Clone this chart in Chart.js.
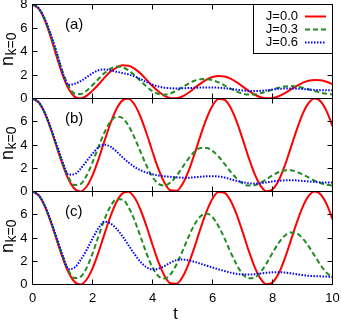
<!DOCTYPE html>
<html><head><meta charset="utf-8">
<script src="https://cdn.jsdelivr.net/npm/chart.js@4.4.1/dist/chart.umd.min.js"></script>
<style>
html,body{margin:0;padding:0;background:#fff;}
#wrap{position:relative;width:341px;height:321px;overflow:hidden;background:#fff;}
canvas{position:absolute;left:0;}
</style></head>
<body><div id="wrap">
<canvas id="ca" width="341" height="110" style="top:0px"></canvas>
<canvas id="cb" width="341" height="115" style="top:88px"></canvas>
<canvas id="cc" width="341" height="140" style="top:181px"></canvas>
</div>
<script>
// time grid
const T = [0,0.2,0.4,0.6,0.8,1,1.2,1.4,1.6,1.8,2,2.2,2.4,2.6,2.8,3,3.2,3.4,3.6,3.8,4,4.2,4.4,4.6,4.8,5,5.2,5.4,5.6,5.8,6,6.2,6.4,6.6,6.8,7,7.2,7.4,7.6,7.8,8,8.2,8.4,8.6,8.8,9,9.2,9.4,9.6,9.8,10];
const seriesLabels = ['J=0.0','J=0.3','J=0.6'];
const panelLabels = ['(a)','(b)','(c)'];
const xTickValues = [0,2,4,6,8,10];
const yTickValues = [0,2,4,6,8];

// panel (a)
const redA = [8.00,7.66,6.72,5.29,3.61,2.04,0.84,0.16,0.01,0.23,0.67,1.19,1.78,2.29,2.63,2.82,2.79,2.54,2.12,1.60,1.06,0.59,0.23,0.03,0.02,0.18,0.49,0.89,1.27,1.60,1.83,1.92,1.88,1.69,1.39,1.03,0.66,0.34,0.11,0.02,0.04,0.19,0.44,0.75,1.06,1.33,1.51,1.58,1.55,1.42,1.22];
const greenA = [8.00,7.68,6.78,5.42,3.85,2.30,1.08,0.42,0.38,0.66,1.13,1.66,2.17,2.54,2.72,2.66,2.40,1.99,1.50,1.02,0.62,0.38,0.32,0.43,0.66,0.97,1.27,1.51,1.64,1.65,1.56,1.37,1.12,0.84,0.60,0.41,0.33,0.34,0.44,0.59,0.76,0.91,1.02,1.06,1.02,0.92,0.79,0.64,0.50,0.40,0.34];
const blueA = [8.00,7.70,6.83,5.53,4.00,2.25,1.16,1.25,1.47,1.80,2.15,2.40,2.47,2.40,2.28,2.17,2.05,1.88,1.65,1.40,1.18,1.02,0.92,0.87,0.86,0.87,0.89,0.91,0.93,0.94,0.94,0.92,0.88,0.82,0.75,0.69,0.65,0.63,0.65,0.70,0.76,0.82,0.85,0.86,0.84,0.80,0.76,0.73,0.71,0.70,0.71];
// panel (b)
const redB = [8.00,7.68,6.79,5.45,3.88,2.34,1.05,0.23,0.01,0.41,1.39,2.77,4.35,5.87,7.10,7.84,7.97,7.48,6.43,5.01,3.42,1.92,0.76,0.10,0.06,0.64,1.76,3.22,4.81,6.27,7.38,7.95,7.89,7.22,6.05,4.55,2.96,1.54,0.51,0.02,0.17,0.92,2.16,3.69,5.26,6.64,7.60,8.00,7.76,6.93,5.63];
const greenB = [8.00,7.68,6.80,5.47,3.93,2.42,1.20,0.55,0.64,1.35,2.50,3.84,5.09,6.01,6.44,6.32,5.66,4.63,3.42,2.22,1.25,0.66,0.51,0.77,1.35,2.09,2.83,3.41,3.75,3.75,3.50,3.01,2.37,1.71,1.13,0.70,0.51,0.54,0.75,1.06,1.38,1.66,1.81,1.83,1.70,1.47,1.21,0.94,0.73,0.58,0.51];
const blueB = [8.00,7.70,6.83,5.55,4.07,2.60,1.45,1.48,1.95,2.60,3.25,3.80,4.02,3.85,3.45,2.95,2.50,2.12,1.83,1.62,1.48,1.38,1.31,1.26,1.22,1.19,1.19,1.22,1.27,1.31,1.32,1.29,1.20,1.06,0.92,0.80,0.71,0.68,0.71,0.78,0.86,0.92,0.96,0.97,0.95,0.91,0.86,0.82,0.79,0.77,0.77];
// panel (c)
const redC = [8.00,7.68,6.79,5.45,3.88,2.34,1.05,0.23,0.01,0.41,1.39,2.77,4.35,5.87,7.10,7.84,7.97,7.48,6.43,5.01,3.42,1.92,0.76,0.10,0.06,0.64,1.76,3.22,4.81,6.27,7.38,7.95,7.89,7.22,6.05,4.55,2.96,1.54,0.51,0.02,0.17,0.92,2.16,3.69,5.26,6.64,7.60,8.00,7.76,6.93,5.63];
const greenC = [8.00,7.68,6.80,5.48,3.95,2.45,1.22,0.55,0.65,1.41,2.66,4.15,5.60,6.73,7.33,7.31,6.66,5.53,4.13,2.68,1.48,0.71,0.51,0.87,1.72,2.87,4.09,5.15,5.87,6.10,5.79,5.02,3.97,2.80,1.74,0.91,0.53,0.59,1.06,1.82,2.71,3.55,4.18,4.48,4.41,3.99,3.30,2.49,1.68,1.02,0.61];
const blueC = [8.00,7.70,6.83,5.56,4.08,2.55,1.33,1.45,2.10,2.95,3.95,4.85,5.40,5.25,4.80,4.15,3.38,2.61,1.94,1.49,1.29,1.36,1.59,1.88,2.10,2.15,2.08,1.95,1.79,1.62,1.46,1.31,1.16,1.02,0.92,0.86,0.85,0.88,0.94,1.01,1.05,1.06,1.03,0.97,0.89,0.81,0.75,0.72,0.70,0.68,0.66];

const FONT = "'Liberation Sans', Arial, Helvetica, sans-serif";
const COLORS = ['#ff0000', '#228b22', '#0000ff'];
const DASHES = [[], [5, 3], [1.5, 1.5]];

function ds(idx, values) {
  return {
    label: seriesLabels[idx],
    data: T.map((t, i) => ({x: t, y: values[i]})),
    borderColor: COLORS[idx],
    borderWidth: 2,
    borderDash: DASHES[idx],
    pointRadius: 0,
    fill: false,
    cubicInterpolationMode: 'monotone',
    order: 2 - idx
  };
}

const framePlugin = {
  id: 'frame',
  afterDatasetsDraw(chart) {
    const o = chart.options.plugins.frame;
    const ctx = chart.ctx, a = chart.chartArea, xs = chart.scales.x, ys = chart.scales.y;
    ctx.save();
    ctx.strokeStyle = '#000';
    ctx.lineWidth = 1;
    ctx.setLineDash([]);
    ctx.beginPath();
    xTickValues.forEach(v => {
      const px = Math.round(xs.getPixelForValue(v) - 0.5) + 0.5;
      ctx.moveTo(px, a.bottom); ctx.lineTo(px, a.bottom - 5);
      ctx.moveTo(px, a.top); ctx.lineTo(px, a.top + 5);
    });
    yTickValues.forEach(v => {
      const py = Math.round(ys.getPixelForValue(v) - 0.5) + 0.5;
      ctx.moveTo(a.left, py); ctx.lineTo(a.left + 5, py);
      ctx.moveTo(a.right, py); ctx.lineTo(a.right - 5, py);
    });
    ctx.stroke();
    ctx.strokeRect(a.left, a.top, a.right - a.left, a.bottom - a.top);

    // panel label
    ctx.fillStyle = '#000';
    ctx.font = '15px ' + FONT;
    ctx.textAlign = 'left';
    ctx.textBaseline = 'middle';
    ctx.fillText(o.label, 65, a.top + 20.5);

    // y title n_{k=0}
    ctx.save();
    ctx.translate(0, a.top + 45);
    ctx.rotate(-Math.PI / 2);
    ctx.textBaseline = 'alphabetic';
    ctx.font = '18px ' + FONT;
    const wn = ctx.measureText('n').width;
    ctx.font = '14px ' + FONT;
    const wsub = ctx.measureText('k=0').width;
    const start = -(wn + wsub) / 2;
    ctx.font = '18px ' + FONT;
    ctx.fillText('n', start, 12.5);
    ctx.font = '14px ' + FONT;
    ctx.fillText('k=0', start + wn + 0.5, 16);
    ctx.restore();

    if (o.legend) {
      const L = 253.5, R = a.right, Tp = a.top, B = 53.5;
      ctx.fillStyle = '#fff';
      ctx.fillRect(L, Tp, R - L, B - Tp);
      ctx.strokeStyle = '#000';
      ctx.strokeRect(L, Tp, R - L, B - Tp);
      ctx.font = '13px ' + FONT;
      ctx.textAlign = 'right';
      ctx.textBaseline = 'middle';
      chart.data.datasets.forEach((d, i) => {
        const yy = 16.5 + 13 * i;
        ctx.fillStyle = '#000';
        ctx.fillText(d.label, 298, yy);
        ctx.strokeStyle = d.borderColor;
        ctx.lineWidth = d.borderWidth;
        ctx.setLineDash(d.borderDash);
        ctx.beginPath();
        ctx.moveTo(305, yy); ctx.lineTo(326, yy);
        ctx.stroke();
      });
      ctx.setLineDash([]);
    }
    if (o.xTitle) {
      ctx.fillStyle = '#000';
      ctx.font = '16px ' + FONT;
      ctx.textAlign = 'center';
      ctx.textBaseline = 'alphabetic';
      ctx.fillText('t', 175.5, chart.height - 2);
    }
    ctx.restore();
  }
};

function makeChart(id, datasets, cfg) {
  const tickFont = {family: FONT, size: 13};
  return new Chart(document.getElementById(id), {
    type: 'line',
    data: {datasets},
    options: {
      responsive: false,
      animation: false,
      devicePixelRatio: 1,
      layout: {padding: {top: cfg.pt, bottom: cfg.pb, left: 0, right: 8.5}},
      plugins: {
        legend: {display: false},
        tooltip: {enabled: false},
        frame: {label: cfg.label, legend: cfg.legend, xTitle: cfg.showX}
      },
      scales: {
        x: {
          type: 'linear', min: 0, max: 10,
          display: cfg.showX,
          ticks: {stepSize: 2, color: '#000', font: tickFont, padding: 6, maxRotation: 0, autoSkip: false},
          grid: {display: true, drawOnChartArea: false, drawTicks: false},
          border: {display: false},
          afterFit(s) { s.height = cfg.showX ? 36.5 : 0; s.paddingLeft = 0; s.paddingRight = 0; }
        },
        y: {
          type: 'linear', min: 0, max: 8,
          ticks: {stepSize: 2, color: '#000', font: tickFont, padding: 5, autoSkip: false,
            callback: v => (cfg.hideTop && v === 8) ? '' : String(v)},
          grid: {display: true, drawOnChartArea: false, drawTicks: false},
          border: {display: false},
          afterFit(s) { s.width = 32.5; s.paddingTop = 0; s.paddingBottom = 0; }
        }
      }
    },
    plugins: [framePlugin]
  });
}

makeChart('ca', [ds(0, redA), ds(1, greenA), ds(2, blueA)], {pt: 4.5, pb: 11.5, label: panelLabels[0], legend: true, showX: false, hideTop: false});
makeChart('cb', [ds(0, redB), ds(1, greenB), ds(2, blueB)], {pt: 10.5, pb: 11.5, label: panelLabels[1], legend: false, showX: false, hideTop: true});
makeChart('cc', [ds(0, redC), ds(1, greenC), ds(2, blueC)], {pt: 10.5, pb: 0, label: panelLabels[2], legend: false, showX: true, hideTop: true});
</script>
</body></html>
